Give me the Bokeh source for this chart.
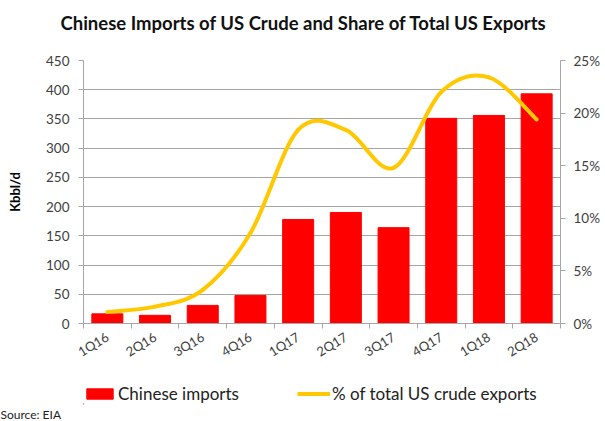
from bokeh.plotting import figure
from bokeh.layouts import column
from bokeh.models import (Range1d, LinearAxis, FixedTicker, PrintfTickFormatter,
                          Legend, LegendItem, ColumnDataSource, Title)
from bokeh.embed import file_html
from bokeh.resources import INLINE
import numpy as np

quarters = ["1Q16", "2Q16", "3Q16", "4Q16", "1Q17", "2Q17", "3Q17", "4Q17", "1Q18", "2Q18"]
imports_kbd = [16.5, 14, 31, 48, 178, 190, 164, 351, 356, 393]
share_pct = [1.1, 1.6, 3.2, 8.6, 18.4, 18.4, 14.8, 22.0, 23.4, 19.4]
left_ticks = [0, 50, 100, 150, 200, 250, 300, 350, 400, 450]
right_ticks = [0, 5, 10, 15, 20, 25]

FONT = "Lato"
TXT = "#404040"
GRID = "#a6a6a6"
RED = "#ff0000"
GOLD = "#ffc800"

# title strip (frame lines up with the chart frame)
t = figure(width=605, height=46, output_backend="svg", toolbar_location=None,
           min_border_left=83, min_border_right=45, min_border_top=0, min_border_bottom=0)
t.outline_line_color = None
t.axis.visible = False
t.grid.visible = False
t.title.text = "Chinese Imports of US Crude and Share of Total US Exports"
t.title.text_font = FONT
t.title.text_font_size = "18.5px"
t.title.text_font_style = "bold"
t.title.text_color = "#111111"
t.title.align = "left"
t.title.offset = -23
t.title.standoff = 18

p = figure(width=605, height=323, output_backend="svg", toolbar_location=None,
           x_range=Range1d(0, len(quarters)), y_range=Range1d(0, 450),
           min_border_left=83, min_border_right=45, min_border_top=14, min_border_bottom=45)
p.outline_line_color = None
p.background_fill_color = "white"
p.border_fill_color = "white"
p.title.visible = False

p.extra_y_ranges = {"pct": Range1d(0, 25)}

xs = [i + 0.5 for i in range(len(quarters))]
src = ColumnDataSource(dict(x=xs, top=imports_kbd))
p.vbar(x="x", top="top", width=0.65, source=src, fill_color=RED, line_color=RED)

# smooth line (Catmull-Rom bezier from the data points)
P = np.array([xs, share_pct], dtype=float).T
n = len(P)
x0, y0, x1, y1, cx0, cy0, cx1, cy1 = [], [], [], [], [], [], [], []
for i in range(n - 1):
    pm = P[i - 1] if i > 0 else P[i]
    p0 = P[i]
    p1 = P[i + 1]
    p2 = P[i + 2] if i + 2 < n else P[i + 1]
    c0 = p0 + (p1 - pm) / 6.0
    c1 = p1 - (p2 - p0) / 6.0
    x0.append(p0[0]); y0.append(p0[1]); x1.append(p1[0]); y1.append(p1[1])
    cx0.append(c0[0]); cy0.append(c0[1]); cx1.append(c1[0]); cy1.append(c1[1])
p.bezier(x0=x0, y0=y0, x1=x1, y1=y1, cx0=cx0, cy0=cy0, cx1=cx1, cy1=cy1,
         y_range_name="pct", line_color=GOLD, line_width=4, line_cap="round")

# x axis
xa = p.xaxis[0]
xa.ticker = FixedTicker(ticks=xs, minor_ticks=list(range(len(quarters) + 1)))
xa.major_label_overrides = {x: q for x, q in zip(xs, quarters)}
xa.major_tick_line_color = None
xa.minor_tick_in = 0
xa.minor_tick_out = 5
xa.minor_tick_line_color = GRID
xa.axis_line_color = GRID
xa.major_label_orientation = 0.55
xa.major_label_text_font = FONT
xa.major_label_text_font_size = "13px"
xa.major_label_text_color = TXT
xa.major_label_standoff = 6

# left axis
ya = p.yaxis[0]
ya.ticker = FixedTicker(ticks=left_ticks)
ya.minor_tick_line_color = None
ya.major_tick_in = 0
ya.major_tick_out = 5
ya.major_tick_line_color = GRID
ya.axis_line_color = GRID
ya.major_label_text_font = FONT
ya.major_label_text_font_size = "13.5px"
ya.major_label_text_color = TXT
ya.major_label_standoff = 9
ya.axis_label = "Kbbl/d"
ya.axis_label_text_font = FONT
ya.axis_label_text_font_size = "13px"
ya.axis_label_text_font_style = "bold"
ya.axis_label_text_color = "#000000"
ya.axis_label_standoff = 20

# right axis
ra = LinearAxis(y_range_name="pct", ticker=FixedTicker(ticks=right_ticks),
                formatter=PrintfTickFormatter(format="%d%%"))
ra.minor_tick_line_color = None
ra.major_tick_in = 0
ra.major_tick_out = 5
ra.major_tick_line_color = GRID
ra.axis_line_color = GRID
ra.major_label_text_font = FONT
ra.major_label_text_font_size = "13.5px"
ra.major_label_text_color = TXT
ra.major_label_standoff = 8
p.add_layout(ra, "right")

p.xgrid.grid_line_color = None
p.ygrid.grid_line_color = GRID
p.ygrid.ticker = FixedTicker(ticks=left_ticks)

# legend strip below the chart (its frame lines up with the chart frame)
q = figure(width=605, height=52, output_backend="svg", toolbar_location=None,
           x_range=Range1d(83, 560), y_range=Range1d(0, 36),
           min_border_left=83, min_border_right=45, min_border_top=0, min_border_bottom=0)
q.outline_line_color = None
q.axis.visible = False
q.grid.visible = False
q.title.visible = False
proxy_bar = q.vbar(x=[-100], top=[1], width=1, fill_color=RED, line_color=RED)
proxy_line = q.line(x=[-100, -90], y=[1, 1], line_color=GOLD, line_width=4)

legend = Legend(items=[LegendItem(label="Chinese imports", renderers=[proxy_bar]),
                       LegendItem(label="% of total US crude exports", renderers=[proxy_line])],
                orientation="horizontal", location=(0, 0),
                glyph_width=33, glyph_height=13, label_standoff=2, spacing=58,
                label_text_font=FONT, label_text_font_size="17px", label_text_color="#222222",
                border_line_color=None, background_fill_alpha=0, padding=0, margin=0)
q.add_layout(legend, "center")

q.add_layout(Title(text="Source: EIA", align="left", offset=-83, standoff=0,
                   text_font=FONT, text_font_size="12px", text_font_style="normal",
                   text_color="#222222"), "below")

open("out.html", "w").write(file_html(column(t, p, q, spacing=0), INLINE))
